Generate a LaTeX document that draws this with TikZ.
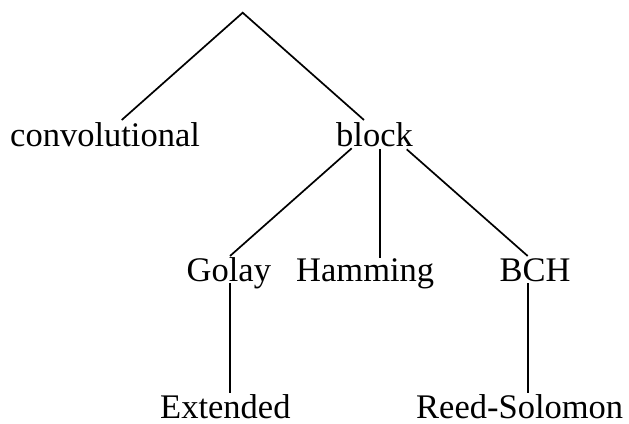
\documentclass[tikz,border=0pt]{standalone}
\usepackage{fontspec}
\setmainfont{Liberation Serif}
\begin{document}
\begin{tikzpicture}[x=1pt,y=-1pt,
  lbl/.style={anchor=base west,inner sep=0pt,font=\fontsize{34.5}{40}\selectfont},
  edge/.style={line width=1.7pt}]
\useasboundingbox (0,0) rectangle (629,423);
% labels
\node[lbl] (conv) at (10,146.5) {convolutional};
\node[lbl] (block) at (336,146.5) {block};
\node[lbl] (golay) at (186.5,281.7) {Golay};
\node[lbl] (hamming) at (296,281.7) {Hamming};
\node[lbl] (bch) at (499.5,281.7) {BCH};
\node[lbl] (ext) at (160,418) {Extended};
\node[lbl] (rs) at (416,418) {Reed-Solomon};
% connector end points
\coordinate (root) at (242.7,12.7);
\coordinate (convT) at (121.7,120);
\coordinate (blockT) at (364,120);
\coordinate (blockL) at (351.7,148.3);
\coordinate (blockM) at (380,149.3);
\coordinate (blockR) at (406.7,149.3);
\coordinate (golayT) at (230,256);
\coordinate (hammingT) at (380,258);
\coordinate (bchT) at (527.7,256);
\coordinate (golayB) at (230,283);
\coordinate (bchB) at (528,283);
\coordinate (extT) at (230,393);
\coordinate (rsT) at (528,393);
% connectors
\draw[edge] (convT) -- (root) -- (blockT);
\draw[edge] (blockL) -- (golayT);
\draw[edge] (blockM) -- (hammingT);
\draw[edge] (blockR) -- (bchT);
\draw[edge] (golayB) -- (extT);
\draw[edge] (bchB) -- (rsT);
\end{tikzpicture}
\end{document}
